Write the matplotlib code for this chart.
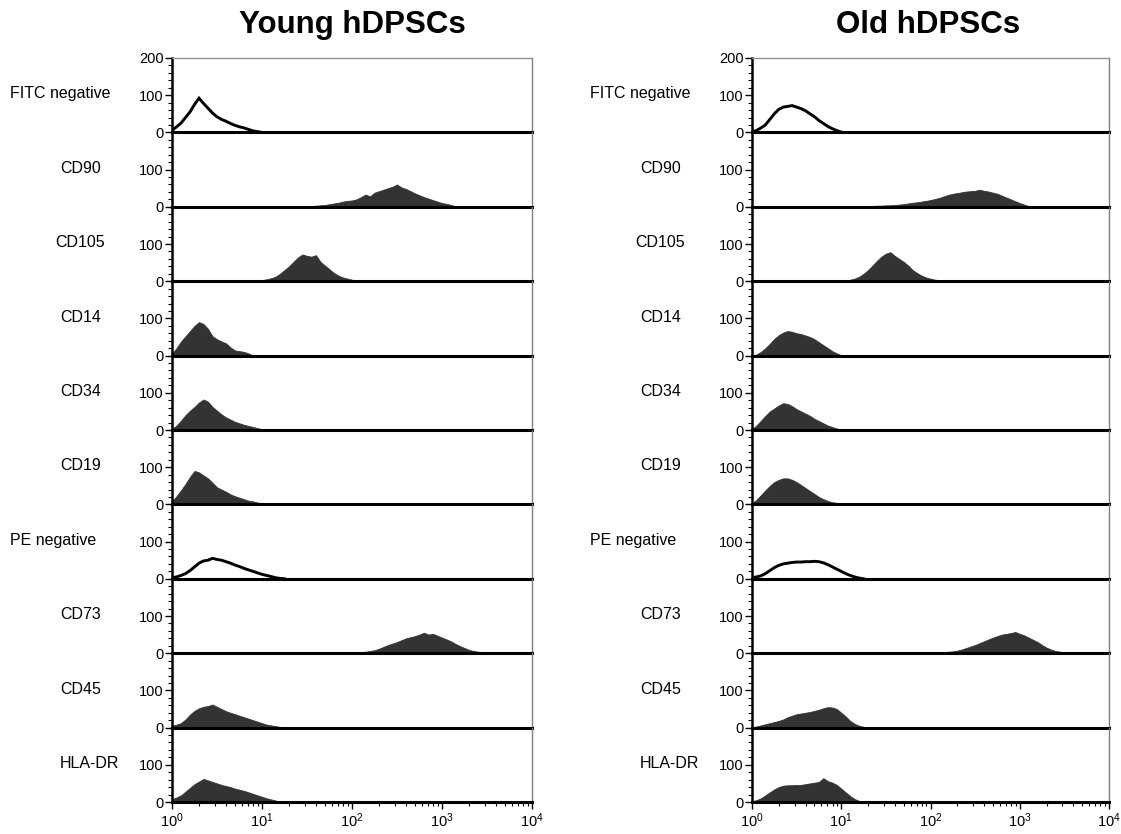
import numpy as np
import matplotlib
matplotlib.use("Agg")
import matplotlib.pyplot as plt
from matplotlib.ticker import FixedLocator, MultipleLocator, LogLocator, NullFormatter

plt.rcParams['font.family'] = ['Liberation Sans', 'DejaVu Sans']
plt.rcParams['mathtext.fontset'] = 'custom'
plt.rcParams['mathtext.rm'] = 'Liberation Sans'
plt.rcParams['mathtext.it'] = 'Liberation Sans'

# ---------------- data ----------------
titles = ["Young hDPSCs", "Old hDPSCs"]
markers = ["FITC negative", "CD90", "CD105", "CD14", "CD34", "CD19",
           "PE negative", "CD73", "CD45", "HLA-DR"]
outline_markers = ["FITC negative", "PE negative"]
bin_step = 0.05          # log10 width of one histogram bin
x_ticklabels = ["10$^{0}$", "10$^{1}$", "10$^{2}$", "10$^{3}$", "10$^{4}$"]

# start (log10 of first bin) and counts per bin
young_start = [0.00, 1.55, 0.85, 0.00, 0.00, 0.00, 0.00, 1.90, 0.00, 0.00]
young_counts = [
    [5, 15, 25, 40, 55, 75, 92, 78, 65, 52, 42, 35, 30, 24, 19, 15, 12, 8, 4, 2, 0],
    [2, 3, 4, 5, 7, 9, 11, 14, 16, 17, 20, 26, 33, 28, 38, 42, 46, 50, 54, 60,
     52, 48, 42, 36, 31, 26, 22, 18, 14, 10, 8, 5, 1],
    [1, 1, 2, 3, 5, 8, 12, 20, 30, 40, 52, 64, 72, 68, 66, 70, 52, 42, 32, 22,
     15, 10, 7, 4, 2, 1],
    [5, 20, 38, 52, 66, 80, 90, 85, 72, 52, 44, 38, 33, 22, 14, 12, 10, 6, 0],
    [3, 12, 25, 40, 52, 62, 74, 82, 76, 62, 52, 42, 34, 28, 22, 18, 14, 11, 8, 5, 2, 0],
    [8, 22, 38, 55, 74, 90, 86, 78, 70, 58, 46, 40, 34, 27, 22, 18, 14, 10, 8, 5, 3, 1],
    [3, 5, 9, 14, 22, 32, 42, 48, 50, 55, 52, 50, 46, 42, 37, 33, 28, 24, 20, 16,
     12, 9, 6, 3, 1, 0],
    [1, 1, 2, 2, 3, 4, 6, 8, 12, 17, 22, 26, 30, 35, 40, 43, 46, 50, 55, 50,
     52, 47, 42, 37, 32, 25, 19, 14, 9, 6, 4, 3, 2, 2, 1, 1],
    [5, 8, 12, 22, 35, 45, 52, 56, 58, 62, 56, 50, 44, 40, 36, 32, 28, 24, 20, 16,
     12, 8, 6, 4, 2, 1],
    [8, 12, 18, 28, 38, 48, 55, 62, 58, 54, 50, 46, 43, 40, 36, 33, 30, 26, 22, 18,
     14, 10, 7, 4, 1],
]

old_start = [0.00, 1.00, 0.95, 0.00, 0.00, 0.00, 0.00, 1.70, 0.00, 0.00]
old_counts = [
    [2, 5, 12, 20, 35, 50, 62, 68, 70, 72, 68, 64, 58, 50, 42, 32, 24, 16, 10, 5, 1],
    [1, 0, 1, 1, 1, 1, 2, 2, 3, 3, 4, 4, 5, 6, 7, 9, 11, 12, 14, 16,
     18, 21, 24, 28, 32, 35, 37, 39, 41, 42, 43, 46, 43, 41, 38, 35, 30, 25, 20, 15,
     10, 6, 2],
    [1, 1, 2, 4, 7, 12, 20, 30, 42, 55, 66, 74, 78, 68, 60, 52, 42, 30, 22, 15,
     10, 7, 4, 3, 2, 1, 0],
    [1, 3, 10, 20, 32, 45, 55, 62, 66, 64, 60, 58, 54, 50, 44, 36, 28, 20, 12, 6, 1],
    [3, 12, 25, 38, 50, 58, 66, 72, 70, 64, 56, 50, 44, 38, 30, 24, 18, 12, 8, 4, 2, 0],
    [4, 12, 25, 38, 50, 60, 66, 70, 70, 66, 60, 52, 44, 36, 28, 20, 14, 9, 6, 4, 3, 2, 1, 0],
    [3, 5, 8, 14, 22, 30, 36, 40, 42, 44, 45, 45, 46, 46, 47, 46, 43, 38, 32, 26,
     20, 14, 9, 5, 2, 0],
    [1, 1, 1, 1, 1, 1, 2, 2, 2, 3, 4, 5, 7, 10, 14, 18, 22, 27, 32, 37,
     42, 46, 50, 52, 54, 57, 52, 48, 42, 36, 30, 22, 15, 10, 6, 4, 3, 2, 2, 1, 1],
    [1, 3, 6, 9, 12, 15, 18, 22, 28, 32, 36, 38, 40, 42, 45, 48, 52, 55, 54, 50,
     40, 30, 18, 10, 5, 2, 1, 1, 1, 1, 1],
    [2, 5, 10, 18, 26, 34, 40, 44, 45, 45, 46, 46, 48, 50, 52, 54, 64, 56, 52, 46,
     36, 26, 16, 8, 3, 0],
]

columns = [(young_start, young_counts), (old_start, old_counts)]

# ---------------- layout ----------------
W, H = 1121, 834
fig = plt.figure(figsize=(W / 100, H / 100), dpi=100)

col_left_px = [172, 752]
ax_width_px = [360, 357]
top_px, bottom_px = 58, 802
n = len(markers)
panel_h_px = (bottom_px - top_px) / n
label_x_px = {"FITC negative": 10, "PE negative": 10, "CD105": 55}
label_default_x_px = 60
title_x_px = [352, 928]

fill_color = "#333333"

for c, (starts, counts) in enumerate(columns):
    for i, m in enumerate(markers):
        y0 = top_px + i * panel_h_px
        ax = fig.add_axes([col_left_px[c] / W, 1 - (y0 + panel_h_px) / H,
                           ax_width_px[c] / W, panel_h_px / H])
        ax.set_facecolor("none")
        vals = np.array(counts[i], dtype=float)
        x = 10 ** (starts[i] + bin_step * np.arange(len(vals)))
        if m in outline_markers:
            ax.plot(x, vals, color="black", lw=2.1, solid_joinstyle="miter")
        else:
            ax.fill_between(x, 0, vals, color=fill_color, lw=0.6,
                            edgecolor=fill_color)
        ax.set_xscale("log")
        ax.set_xlim(1, 1e4)
        ax.set_ylim(0, 200)

        # spines
        ax.spines["left"].set_linewidth(1.8)
        ax.spines["bottom"].set_linewidth(2.2)
        ax.spines["bottom"].set_zorder(5)
        ax.spines["right"].set_linewidth(1.0)
        ax.spines["right"].set_color("#808080")
        ax.spines["top"].set_linewidth(1.0)
        ax.spines["top"].set_color("#909090")
        if i > 0:
            ax.spines["top"].set_visible(False)

        # y ticks
        if i == 0:
            ax.yaxis.set_major_locator(FixedLocator([0, 100, 200]))
        else:
            ax.yaxis.set_major_locator(FixedLocator([0, 100]))
        ax.yaxis.set_minor_locator(MultipleLocator(20))
        ax.tick_params(axis="y", which="major", direction="out", length=5,
                       width=1.0, labelsize=10.5, pad=1)
        ax.tick_params(axis="y", which="minor", direction="out", length=3,
                       width=0.8)

        # x ticks
        if i == n - 1:
            ax.xaxis.set_major_locator(FixedLocator([1, 10, 100, 1000, 10000]))
            ax.set_xticklabels(x_ticklabels)
            ax.xaxis.set_minor_locator(LogLocator(base=10, subs=np.arange(2, 10)))
            ax.xaxis.set_minor_formatter(NullFormatter())
            ax.tick_params(axis="x", which="major", direction="out", length=5,
                           width=1.0, labelsize=10.5, pad=2)
            ax.tick_params(axis="x", which="minor", direction="out", length=3,
                           width=0.8)
        else:
            ax.tick_params(axis="x", which="both", bottom=False, labelbottom=False)

        # row label at the "100" level of the panel
        lx = label_x_px.get(m, label_default_x_px) + (col_left_px[c] - col_left_px[0])
        ly = y0 + panel_h_px - 38.5
        fig.text(lx / W, 1 - ly / H, m, fontsize=11.5, ha="left", va="center")

    fig.text(title_x_px[c] / W, 1 - 25 / H, titles[c], fontsize=22.5,
             fontweight="bold", ha="center", va="center")

fig.savefig("out.png", dpi=100)
